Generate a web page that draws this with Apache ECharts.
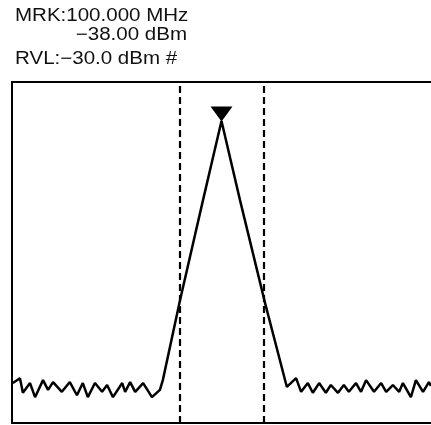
<!DOCTYPE html>
<html>
<head>
<meta charset="utf-8">
<script src="https://cdn.jsdelivr.net/npm/echarts@6/dist/echarts.min.js"></script>
<style>html,body{margin:0;padding:0;background:#fff}#c{width:431px;height:425px}</style>
</head>
<body>
<div id="c"></div>
<script>
// Frequency (MHz) and level (dBm) of the trace
const freqMHz = [95.02,95.19,95.26,95.43,95.55,95.74,95.86,95.98,96.19,96.38,96.55,96.69,96.81,96.98,97.15,97.27,97.41,97.63,97.70,97.82,97.94,98.13,98.34,98.53,98.60,99.01,99.56,100.0,100.44,101.04,101.56,101.78,101.90,102.06,102.18,102.33,102.49,102.61,102.78,102.92,103.04,103.21,103.33,103.45,103.64,103.81,103.93,104.09,104.24,104.33,104.52,104.64,104.81,104.95,105.0];
const levelDBm = [-91.8,-90.8,-93.8,-91.8,-94.7,-91.2,-93.2,-91.6,-93.6,-91.6,-94.3,-91.8,-94.7,-91.8,-93.6,-92.2,-94.7,-91.8,-93.6,-91.6,-93.6,-91.8,-94.7,-93.2,-91.2,-74.8,-54.2,-38.0,-54.2,-75.4,-92.6,-90.8,-93.6,-91.8,-93.8,-91.8,-93.8,-92.2,-93.8,-92.2,-93.6,-91.8,-93.6,-91.2,-93.6,-91.8,-93.6,-92.2,-93.6,-91.8,-94.7,-91.2,-93.6,-91.6,-92.4];
const markerFreq = [100.0];
const markerLevel = [-38.0];
const cursorFreqs = [99, 101];
const freqRange = [95, 105];
const levelRange = [-100, -30];
const headerTexts = ["MRK:100.000 MHz", "\u221238.00 dBm", "RVL:\u221230.0 dBm #"];

const chart = echarts.init(document.getElementById('c'), null, {renderer: 'canvas'});
const FONT = '18px "Liberation Sans", Arial, sans-serif';
const trace = freqMHz.map((f, i) => [f, levelDBm[i]]);
chart.setOption({
  animation: false,
  backgroundColor: '#fff',
  grid: {left: 12, top: 82, right: 0, bottom: 2, containLabel: false},
  xAxis: [{
    type: 'value', min: freqRange[0], max: freqRange[1], position: 'bottom',
    axisLine: {show: true, onZero: false, lineStyle: {color: '#000', width: 2}},
    axisTick: {show: false}, axisLabel: {show: false}, splitLine: {show: false}
  }, {
    type: 'value', min: freqRange[0], max: freqRange[1], position: 'top',
    axisLine: {show: true, onZero: false, lineStyle: {color: '#000', width: 2}},
    axisTick: {show: false}, axisLabel: {show: false}, splitLine: {show: false}
  }],
  yAxis: {
    type: 'value', min: levelRange[0], max: levelRange[1],
    axisLine: {show: true, onZero: false, lineStyle: {color: '#000', width: 2}},
    axisTick: {show: false}, axisLabel: {show: false}, splitLine: {show: false}
  },
  graphic: [
    {type: 'text', x: 15, y: 7, scaleX: 1.14, style: {text: headerTexts[0], font: FONT, fill: '#111', textAlign: 'left', textVerticalAlign: 'top'}},
    {type: 'text', x: 187, y: 26, scaleX: 1.14, style: {text: headerTexts[1], font: FONT, fill: '#111', textAlign: 'right', textVerticalAlign: 'top'}},
    {type: 'text', x: 15, y: 50, scaleX: 1.14, style: {text: headerTexts[2], font: FONT, fill: '#111', textAlign: 'left', textVerticalAlign: 'top'}}
  ],
  series: [{
    type: 'line', data: trace, showSymbol: false, symbol: 'none',
    lineStyle: {color: '#000', width: 2.5}, z: 3,
    markLine: {
      silent: true, symbol: 'none', label: {show: false},
      lineStyle: {color: '#000', width: 2.2, type: [7, 4]},
      data: cursorFreqs.map(f => ({xAxis: f}))
    },
    markPoint: {
      silent: true,
      data: [{coord: [markerFreq[0], markerLevel[0]]}],
      symbol: 'triangle', symbolRotate: 180, symbolSize: [22, 15], symbolOffset: [0, -7],
      itemStyle: {color: '#000'}, label: {show: false}
    }
  }]
});
</script>
</body>
</html>
